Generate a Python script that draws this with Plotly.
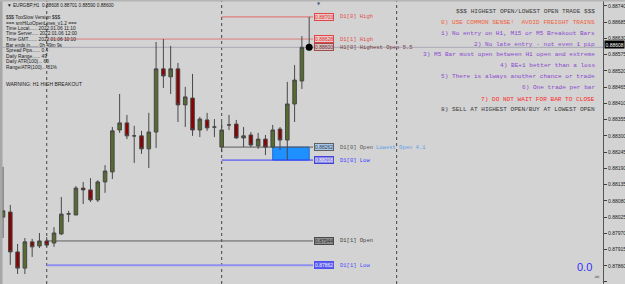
import plotly.graph_objects as go
import pandas as pd

# ---------------- data ----------------
first_bar_time = "2022-01-04 18:00"
opens = [0.88025, 0.88042, 0.87907, 0.87852, 0.87941, 0.87927, 0.87944, 0.87937, 0.87968, 0.88035,
         0.88032, 0.88123, 0.88117, 0.88083, 0.88144, 0.88178, 0.88320, 0.88344, 0.88300, 0.88300,
         0.88256, 0.88313, 0.88527, 0.88500, 0.88527, 0.88405, 0.88428, 0.88320, 0.88354, 0.88330,
         0.88262, 0.88337, 0.88340, 0.88293, 0.88303, 0.88266, 0.88289, 0.88262, 0.88323, 0.88286,
         0.88408, 0.88486, 0.88600]
highs = [0.88195, 0.88066, 0.87934, 0.87954, 0.87951, 0.87971, 0.87957, 0.87991, 0.88093, 0.88046,
         0.88130, 0.88144, 0.88157, 0.88150, 0.88201, 0.88330, 0.88442, 0.88371, 0.88334, 0.88317,
         0.88378, 0.88618, 0.88628, 0.88605, 0.88547, 0.88466, 0.88510, 0.88364, 0.88378, 0.88357,
         0.88347, 0.88371, 0.88354, 0.88330, 0.88313, 0.88310, 0.88303, 0.88337, 0.88330, 0.88483,
         0.88540, 0.88638, 0.88703]
lows = [0.87954, 0.87863, 0.87832, 0.87832, 0.87890, 0.87920, 0.87924, 0.87924, 0.87964, 0.88008,
        0.88032, 0.88069, 0.88076, 0.88076, 0.88107, 0.88154, 0.88310, 0.88289, 0.88208, 0.88239,
        0.88191, 0.88259, 0.88462, 0.88442, 0.88347, 0.88330, 0.88300, 0.88296, 0.88317, 0.88296,
        0.88245, 0.88320, 0.88290, 0.88262, 0.88262, 0.88256, 0.88235, 0.88259, 0.88252, 0.88218,
        0.88347, 0.88459, 0.88590]
closes = [0.88046, 0.87907, 0.87852, 0.87941, 0.87924, 0.87944, 0.87930, 0.87971, 0.88035, 0.88036,
          0.88123, 0.88117, 0.88083, 0.88144, 0.88181, 0.88317, 0.88344, 0.88300, 0.88300, 0.88256,
          0.88313, 0.88527, 0.88503, 0.88527, 0.88405, 0.88432, 0.88320, 0.88357, 0.88327, 0.88330,
          0.88320, 0.88337, 0.88293, 0.88300, 0.88269, 0.88289, 0.88262, 0.88320, 0.88286, 0.88408,
          0.88489, 0.88600, 0.88608]

price_ticks = [0.87805, 0.87860, 0.87915, 0.87970, 0.88025, 0.88080, 0.88135, 0.88190, 0.88245,
               0.88300, 0.88355, 0.88410, 0.88465, 0.88520, 0.88575, 0.88630, 0.88685, 0.88740]
current_price = 0.88608

day_separators = ["2022-01-05 00:00", "2022-01-06 00:00", "2022-01-07 00:00"]

level_names = ["D1[0] High", "D1[1] High", "H1[0] Highest Open 5.5", "D1[0] Open",
               "D1[0] Low", "D1[1] Open", "D1[1] Low"]
level_prices = [0.88703, 0.88628, 0.88600, 0.88262, 0.88218, 0.87944, 0.87862]
level_start = ["2022-01-06 00:00", "2022-01-05 00:00", None, "2022-01-06 00:00",
               "2022-01-06 00:00", "2022-01-05 00:00", "2022-01-05 00:00"]

lowest_open_label = "Lowest Open 4.1"
lowest_open_time = "2022-01-06 07:00"
lowest_open_price = 0.88262
day_low_price = 0.88218
highest_open_price = 0.88600

header_text = "\u25bc EURGBP,H1  0.88608 0.88701 0.88590 0.88600"
info_lines = ["$$$ TooSlow Version $$$",
              "=== smHiLoOpenLines_v1.2 ===",
              "Time Local...... 2022.01.06 11:10",
              "Time Server..... 2022.01.06 12:00",
              "Time GMT....... 2022.01.06 10:10",
              "Bar ends in...... 0h 49m 9s",
              "Spread Pips...... 0.4",
              "Daily Range...... 49",
              "Daily ATR(100)... 60",
              "Range/ATR(100)... 81%"]
warning_text = "WARNING: H1 HIGH BREAKOUT"

rules = ["$$$ HIGHEST OPEN/LOWEST OPEN TRADE $$$",
         "0) USE COMMON SENSE!  AVOID FREIGHT TRAINS",
         "1) No entry on H1, M15 or M5 Breakout Bars",
         "2) No late entry - not even 1 pip",
         "3) M5 Bar must open between H1 open and extreme",
         "4) BE+1 better than a loss",
         "5) There is always another chance or trade",
         "6) One trade per bar",
         "7) DO NOT WAIT FOR BAR TO CLOSE",
         "8) SELL AT HIGHEST OPEN/BUY AT LOWEST OPEN"]
bottom_value = "0.0"

# ---------------- styles ----------------
W, H = 625, 284
BG = "#d3d3d3"
PITCH = 7.29          # px per bar
X0PX = 3.0            # px of first bar
AXIS_PX = 603.0
Y_TOP, Y_BOT = 0.887603, 0.877982

t0 = pd.Timestamp(first_bar_time)
times = [t0 + pd.Timedelta(hours=i) for i in range(len(opens))]


def px_time(px):
    return t0 + pd.Timedelta(hours=(px - X0PX) / PITCH)


def py(ypix):
    return 1 - ypix / H


def px(xpix):
    return xpix / W


line_colors = ["#e06868", "#e07c7c", "#a8a8b6", "#5c5c5c", "#3c3cff", "#5c5c5c", "#8e8ef2"]
line_widths = [1, 1, 1, 1, 1, 1, 2]
box_borders = ["#e04848", "#e04848", "#a04a4a", "#606060", "#4444d8", "#4a4a4a", "#5050f0"]
box_bgs = ["#ecc8c8", "#ecc8c8", "#d6c4c4", "#a6c8ee", "#8a8ae4", "#8e8e8e", "#5c5cf2"]
box_fonts = ["#d83030", "#d83030", "#6a2a2a", "#404040", "#f0f0ff", "#303030", "#f0f0ff"]
text_colors = ["#e05050", "#e05050", "#7a3c3c", "#555555", "#3c3cff", "#404040", "#4a4aff"]
rule_colors = ["#3a3a3a", "#f0603c", "#8a48d0", "#8a48d0", "#8a48d0", "#8a48d0",
               "#8a48d0", "#8a48d0", "#ff2828", "#3a3a3a"]

fig = go.Figure()
fig.add_trace(go.Candlestick(
    x=times, open=opens, high=highs, low=lows, close=closes,
    increasing=dict(fillcolor="#556b2f", line=dict(color="#484848", width=1)),
    decreasing=dict(fillcolor="#8b0000", line=dict(color="#484848", width=1)),
    whiskerwidth=0, hoverinfo="skip", showlegend=False,
))
fig.add_trace(go.Scatter(
    x=[times[-1]], y=[highest_open_price], mode="markers",
    marker=dict(color="black", size=7), hoverinfo="skip", showlegend=False,
))

shapes = []
annotations = []

# borders
shapes.append(dict(type="rect", xref="paper", yref="paper", x0=0, x1=px(2.5), y0=0, y1=1,
                   fillcolor="#a6a6a6", line=dict(width=0), layer="above"))
shapes.append(dict(type="rect", xref="paper", yref="paper", x0=0, x1=1, y0=py(1.5), y1=1,
                   fillcolor="#b4b4b4", line=dict(width=0), layer="above"))

# day separators
for d in day_separators:
    shapes.append(dict(type="line", xref="x", yref="paper", x0=d, x1=d, y0=0, y1=1,
                       line=dict(color="#444444", width=1, dash="dot"), layer="below"))

# lowest open zone
shapes.append(dict(type="rect", xref="x", yref="y", x0=lowest_open_time, x1=times[-1],
                   y0=day_low_price, y1=lowest_open_price,
                   fillcolor="#1e90ff", line=dict(color="#1a6ad8", width=1), layer="below"))

line_end = px_time(313)
for i, (name, price, start) in enumerate(zip(level_names, level_prices, level_start)):
    if start is None:
        shapes.append(dict(type="line", xref="x domain", yref="y", x0=0, x1=1, y0=price, y1=price,
                           line=dict(color=line_colors[i], width=line_widths[i]), layer="below"))
    else:
        shapes.append(dict(type="line", xref="x", yref="y", x0=start, x1=line_end,
                           y0=price, y1=price,
                           line=dict(color=line_colors[i], width=line_widths[i]), layer="below"))
    annotations.append(dict(xref="paper", yref="y", x=px(324), y=price, text=f"{price:.5f}",
                            showarrow=False, font=dict(family="Liberation Sans", size=5, color=box_fonts[i]),
                            bgcolor=box_bgs[i], bordercolor=box_borders[i], borderwidth=1, borderpad=0,
                            xanchor="center", yanchor="middle"))
    annotations.append(dict(xref="paper", yref="y", x=px(338), y=price, text=name,
                            showarrow=False, font=dict(family="Liberation Mono", size=5.5, color=text_colors[i]),
                            xanchor="left", yanchor="middle"))

annotations.append(dict(xref="paper", yref="y", x=px(374), y=lowest_open_price, text=lowest_open_label,
                        showarrow=False, font=dict(family="Liberation Mono", size=5.5, color="#5aa0ea"),
                        xanchor="left", yanchor="middle"))

# current price box on axis
annotations.append(dict(xref="paper", yref="y", x=px(604), y=current_price, text=f"{current_price:.5f}",
                        showarrow=False, font=dict(family="Liberation Sans", size=5, color="white"),
                        bgcolor="black", borderpad=0.5, xanchor="left", yanchor="middle"))

# header + info block
annotations.append(dict(xref="paper", yref="paper", x=px(5), y=py(6), text=header_text, showarrow=False,
                        font=dict(family="Liberation Sans", size=4.7, color="#202020"),
                        xanchor="left", yanchor="middle"))
info_y = [17.3, 23.0, 28.7, 34.0, 39.3, 45.0, 50.7, 56.3, 62.0, 67.3]
for txt, yy in zip(info_lines, info_y):
    annotations.append(dict(xref="paper", yref="paper", x=px(4), y=py(yy), text=txt, showarrow=False,
                            font=dict(family="Liberation Sans", size=4.8, color="#202020"),
                            xanchor="left", yanchor="middle"))
annotations.append(dict(xref="paper", yref="paper", x=px(4), y=py(84), text=warning_text, showarrow=False,
                        font=dict(family="Liberation Sans", size=5, color="#202020"),
                        xanchor="left", yanchor="middle"))

# rules block
rule_y = [11.5, 22.7, 34.0, 44.5, 55.0, 65.7, 76.7, 87.7, 99.0, 110.0]
for txt, yy, c in zip(rules, rule_y, rule_colors):
    annotations.append(dict(xref="paper", yref="paper", x=px(597), y=py(yy), text=txt, showarrow=False,
                            font=dict(family="Liberation Mono", size=6.1, color=c),
                            xanchor="right", yanchor="middle"))

annotations.append(dict(xref="paper", yref="paper", x=px(594), y=py(267), text=bottom_value, showarrow=False,
                        font=dict(family="Liberation Sans", size=11, color="#2f2fff"),
                        xanchor="right", yanchor="middle"))
annotations.append(dict(xref="paper", yref="paper", x=px(597), y=py(277), text="\u2248", showarrow=False,
                        font=dict(family="DejaVu Sans", size=7, color="#707070"),
                        xanchor="center", yanchor="middle"))
annotations.append(dict(xref="paper", yref="paper", x=px(319), y=py(3.5), text="\u25bc", showarrow=False,
                        font=dict(family="DejaVu Sans", size=4, color="#4a5a80"),
                        xanchor="center", yanchor="middle"))

fig.update_layout(
    width=W, height=H, margin=dict(l=0, r=0, t=0, b=0),
    paper_bgcolor=BG, plot_bgcolor=BG,
    showlegend=False, shapes=shapes, annotations=annotations,
    xaxis=dict(domain=[0, AXIS_PX / W], range=[px_time(0), px_time(AXIS_PX)], visible=False,
               rangeslider=dict(visible=False), type="date"),
    yaxis=dict(side="right", range=[Y_BOT, Y_TOP], tickvals=price_ticks,
               ticktext=[f"{v:.5f}" for v in price_ticks], showgrid=False, zeroline=False,
               tickfont=dict(family="Liberation Sans", size=5, color="#202020"),
               ticks="outside", ticklen=3, tickcolor="#404040",
               showline=True, linecolor="#555555", linewidth=1),
)

fig.write_html("out.html")
